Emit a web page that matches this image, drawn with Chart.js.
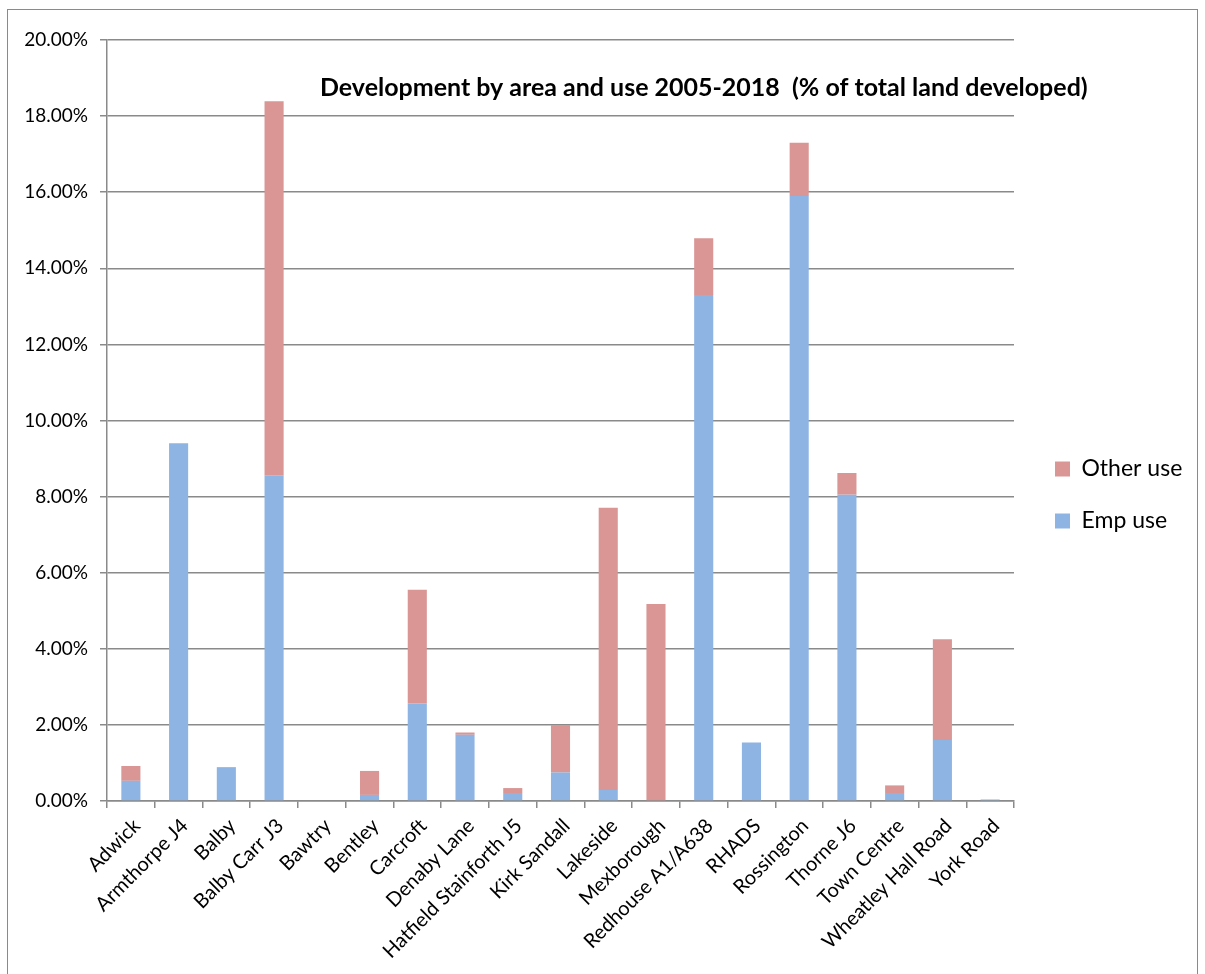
<!DOCTYPE html>
<html>
<head>
<meta charset="utf-8">
<script src="https://cdn.jsdelivr.net/npm/chart.js@4.4.1/dist/chart.umd.min.js"></script>
<style>
  html, body { margin: 0; padding: 0; background: #ffffff; overflow: hidden; }
  #wrap { position: relative; width: 1205px; height: 974px; }
  #frame { position: absolute; left: 7px; top: 9px; width: 1189px; height: 980px; border: 1px solid #8a8a8a; pointer-events: none; }
  canvas { position: absolute; left: 0; top: 0; }
</style>
</head>
<body>
<div id="wrap">
  <canvas id="c" width="1205" height="974"></canvas>
  <div id="frame"></div>
</div>
<script>
const categories = ["Adwick", "Armthorpe J4", "Balby", "Balby Carr J3", "Bawtry", "Bentley", "Carcroft", "Denaby Lane", "Hatfield Stainforth J5", "Kirk Sandall", "Lakeside", "Mexborough", "Redhouse A1/A638", "RHADS", "Rossington", "Thorne J6", "Town Centre", "Wheatley Hall Road", "York Road"];
const empUse   = [0.53, 9.40, 0.89, 8.56, 0, 0.16, 2.56, 1.74, 0.21, 0.75, 0.29, 0, 13.30, 1.54, 15.90, 8.05, 0.21, 1.60, 0.04];
const otherUse = [0.39, 0, 0, 9.83, 0, 0.63, 2.99, 0.06, 0.13, 1.25, 7.42, 5.18, 1.49, 0, 1.40, 0.57, 0.20, 2.65, 0];
const yTicks = { min: 0, max: 20, step: 2 };
const chartTitle = "Development by area and use 2005-2018  (% of total land developed)";

const FONT = "Lato, 'Open Sans', 'DejaVu Sans', sans-serif";
const GRID = "#8a8a8a";

const titlePlugin = {
  id: 'innerTitle',
  afterDraw(chart) {
    const ctx = chart.ctx;
    ctx.save();
    let size = 20;
    ctx.font = "bold " + size + "px " + FONT;
    const w = ctx.measureText(chartTitle).width;
    size = size * 768 / w;
    ctx.font = "bold " + size.toFixed(2) + "px " + FONT;
    ctx.fillStyle = "#000000";
    ctx.textBaseline = "middle";
    ctx.textAlign = "left";
    ctx.fillText(chartTitle, 320, 88);
    ctx.restore();
  }
};

const legendPlacer = {
  id: 'legendPlacer',
  afterInit(chart) {
    const lg = chart.legend;
    if (lg && !lg._wrapped) {
      const orig = lg.fit;
      lg.fit = function () { orig.call(this); this.width = 191; };
      lg._wrapped = true;
    }
  },
  afterLayout(chart) {
    const lg = chart.legend;
    if (lg) { lg.left += 12; lg.top -= 12; lg.bottom -= 12; }
  }
};

new Chart(document.getElementById('c'), {
  type: 'bar',
  data: {
    labels: categories,
    datasets: [
      { label: 'Emp use', data: empUse, backgroundColor: '#8EB4E3', borderWidth: 0 },
      { label: 'Other use', data: otherUse, backgroundColor: '#D99694', borderWidth: 0 }
    ]
  },
  options: {
    responsive: false,
    animation: false,
    devicePixelRatio: 1,
    layout: { padding: { top: 40, left: 0, right: 0, bottom: 0 } },
    datasets: { bar: { barPercentage: 0.4, categoryPercentage: 1.0 } },
    plugins: {
      title: { display: false },
      tooltip: { enabled: false },
      legend: {
        position: 'right',
        reverse: true,
        labels: {
          boxWidth: 15, boxHeight: 15, padding: 29,
          color: '#000000',
          font: { family: FONT, size: 23 }
        }
      }
    },
    scales: {
      x: {
        stacked: true,
        grid: { offset: true, drawOnChartArea: false, drawTicks: true, tickLength: 7, color: GRID, lineWidth: 1.5 },
        border: { color: GRID, width: 1.5 },
        ticks: {
          autoSkip: false, maxRotation: 45, minRotation: 45, padding: 6, labelOffset: 6,
          color: '#000000', font: { family: FONT, size: 20 }
        },
        afterFit(scale) { scale.height = 173; }
      },
      y: {
        stacked: true,
        min: yTicks.min, max: yTicks.max,
        grid: { color: GRID, lineWidth: 1.5, tickLength: 7, drawTicks: true },
        border: { color: GRID, width: 1.5 },
        ticks: {
          stepSize: yTicks.step, padding: 12, color: '#000000',
          font: { family: FONT, size: 19 },
          callback: (v) => Number(v).toFixed(2) + '%'
        },
        afterFit(scale) { scale.width = 107; }
      }
    }
  },
  plugins: [legendPlacer, titlePlugin]
});
</script>
</body>
</html>
